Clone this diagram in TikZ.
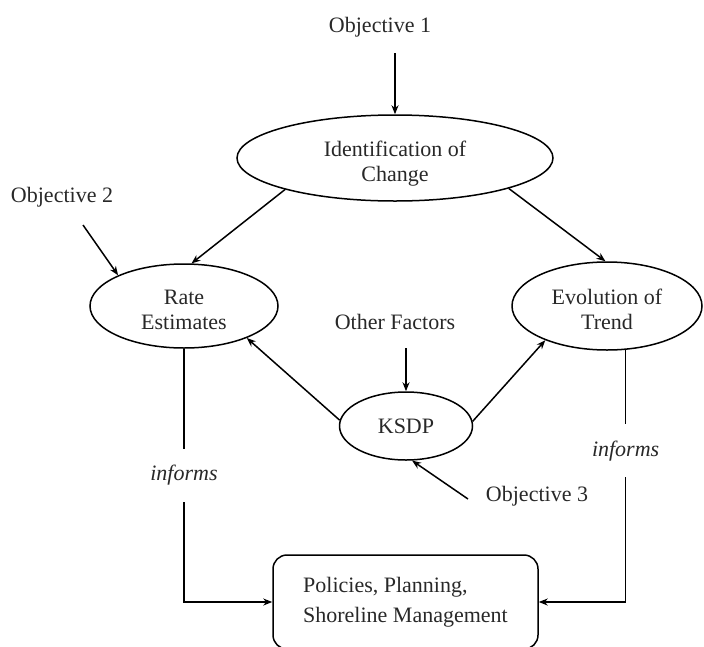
\documentclass[tikz,border=0pt]{standalone}
\usepackage{fontspec}
\setmainfont{Liberation Serif}
\usetikzlibrary{
    arrows.meta,
    shapes.geometric,
    positioning
}
\definecolor{ink}{RGB}{40,40,40}

\begin{document}
\begin{tikzpicture}[x=1pt, y=-1pt,
    oval/.style={draw, ellipse, line width=1.5pt, inner sep=0pt, align=center,
        text=ink, font=\fontsize{22}{25}\selectfont},
    lab/.style={text=ink, font=\fontsize{22}{26}\selectfont},
    infl/.style={text=ink, font=\itshape\fontsize{22}{26}\selectfont,
        fill=white, inner xsep=1pt, minimum height=53pt},
    arr/.style={-{Stealth[length=9pt,width=7pt]}, line width=1.5pt}]

    % Frame
    \useasboundingbox (0,0) rectangle (704,646);
    \clip (0,0) rectangle (704,646);

    % Ovals
    \node[oval, minimum width=316pt, minimum height=86pt, text height=52pt] (ident) at (395,158) {Identification of\\Change};
    \node[oval, minimum width=188pt, minimum height=84pt, text height=48pt] (rate) at (184,306) {Rate\\Estimates};
    \node[oval, minimum width=190pt, minimum height=88pt, text height=48pt] (evol) at (607,306) {Evolution of\\Trend};
    \node[oval, minimum width=133pt, minimum height=68pt] (ksdp) at (406,426) {KSDP};

    % Outcome box
    \node[draw, rounded corners=14pt, line width=1.5pt, minimum width=265pt, minimum height=94pt,
        align=left, text=ink, font=\fontsize{22}{30}\selectfont] (policy) at (405.5,602)
        {Policies, Planning,\\Shoreline Management};

    % Objectives and factors
    \node[lab] (obj1) at (380,27) {Objective 1};
    \node[lab] (obj2) at (62,197) {Objective 2};
    \node[lab] (obj3) at (537,496) {Objective 3};
    \node[lab] (other) at (395,322) {Other Factors};

    \coordinate (obj1s) at (395,53);
    \coordinate (obj2s) at (83,225);
    \coordinate (obj3s) at (468,499);
    \coordinate (others) at (406,348);

    % Inputs
    \draw[arr] (obj1s) -- (ident.north);
    \draw[arr] (obj2s) -- (rate.155);
    \draw[arr] (others) -- (ksdp.north);
    \draw[arr] (obj3s) -- (ksdp.-80);

    % Flow between ovals
    \draw[arr] (ident.196) -- (rate.80);
    \draw[arr] (ident.-15) -- (evol.92);
    \draw[arr] (ksdp.175) -- (rate.-27);
    \draw[arr] (ksdp.4) -- (evol.209);

    % Feeding the box
    \draw[arr] (rate.south) |- node[infl, pos=0.25] (inf1) {informs} (policy.west);
    \draw[arr] (evol.-67) |- node[infl, pos=0.2] (inf2) {informs} (policy.east);
\end{tikzpicture}
\end{document}
